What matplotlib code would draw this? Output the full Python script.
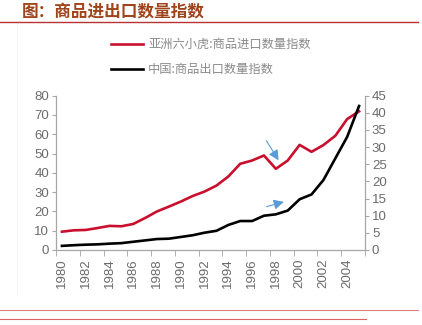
import matplotlib
matplotlib.use("Agg")
import matplotlib.pyplot as plt
from matplotlib.lines import Line2D
import numpy as np

# Data
years = list(range(1980, 2006))
tigers_import = [9.5, 10.2, 10.4, 11.4, 12.5, 12.3, 13.5, 16.6, 20.0, 22.5,
                 25.1, 28.0, 30.3, 33.4, 38.1, 44.7, 46.4, 49.0, 42.1, 46.4,
                 54.5, 50.9, 54.4, 59.2, 67.9, 71.9]
china_export = [1.2, 1.4, 1.55, 1.65, 1.85, 2.0, 2.4, 2.8, 3.2, 3.3,
                3.8, 4.3, 5.05, 5.6, 7.3, 8.45, 8.45, 10.0, 10.4, 11.5,
                14.8, 16.2, 20.4, 26.7, 33.0, 42.0]
label_tigers = "亚洲六小虎:商品进口数量指数"
label_china = "中国:商品出口数量指数"
title = "图：商品进出口数量指数"

RED = "#c8102e"
GRAY = "#a6a6a6"
TXT = "#6b6b6b"

plt.rcParams["font.family"] = ["Liberation Sans", "DejaVu Sans"]
cjk = ["Noto Sans CJK SC", "DejaVu Sans"]

fig = plt.figure(figsize=(4.22, 3.25), dpi=100)
ax = fig.add_axes([56 / 422, 1 - 250 / 325, 309 / 422, 154.3 / 325])
ax2 = ax.twinx()

x = np.arange(len(years))
ax.plot(x, tigers_import, color=RED, lw=1.9, solid_joinstyle="round")
ax2.plot(x, china_export, color="black", lw=1.9, solid_joinstyle="round")

ax.set_xlim(-0.5, len(years) - 0.5)
ax.set_ylim(0, 80)
ax2.set_ylim(0, 45)
ax.set_yticks(range(0, 81, 10))
ax2.set_yticks(range(0, 46, 5))

ax.set_xticks(x[::2])
ax.set_xticklabels([str(y) for y in years[::2]], rotation=90)
ax.set_xticks(np.arange(-0.5, len(years), 2), minor=True)
ax.tick_params(axis="x", which="major", length=0, pad=6)
ax.tick_params(axis="x", which="minor", length=4, color=GRAY)

for a in (ax, ax2):
    for s in a.spines.values():
        s.set_visible(False)
    a.tick_params(axis="y", length=3, color=GRAY, labelcolor=TXT, labelsize=9.5, pad=2)
    a.tick_params(axis="x", labelcolor=TXT, labelsize=9.5)
ax.spines["left"].set_visible(True)
ax.spines["bottom"].set_visible(True)
ax2.spines["right"].set_visible(True)
for s in (ax.spines["left"], ax.spines["bottom"], ax2.spines["right"]):
    s.set_color(GRAY)
    s.set_linewidth(0.9)

# blue arrows
arrow = dict(arrowstyle="-|>,head_length=0.6,head_width=0.3", color="#5b9bd5", lw=0.8)
ax.annotate("", xy=(0.725, 0.566), xytext=(0.676, 0.724),
            xycoords="axes fraction", arrowprops=arrow)
ax.annotate("", xy=(0.746, 0.317), xytext=(0.673, 0.276),
            xycoords="axes fraction", arrowprops=arrow)

# legend
fig.add_artist(Line2D([111 / 422, 143 / 422], [1 - 44 / 325] * 2, color=RED, lw=1.9))
fig.add_artist(Line2D([111 / 422, 143 / 422], [1 - 69 / 325] * 2, color="black", lw=1.9))
fig.text(148 / 422, 1 - 44 / 325, label_tigers, family=cjk, fontsize=8.8,
         color="#8a8a8a", va="center")
fig.text(148 / 422, 1 - 69 / 325, label_china, family=cjk, fontsize=8.8,
         color="#8a8a8a", va="center")

# header / footer decoration
fig.text(22 / 422, 1 - 12 / 325, title, family=cjk, fontsize=12, fontweight="bold",
         color="#a0441c", va="center")
fig.add_artist(Line2D([0, 418 / 422], [1 - 22 / 325] * 2, color="#b83232", lw=1.0))
fig.add_artist(Line2D([17 / 422, 17 / 422], [1 - 24 / 325, 1 - 293 / 325],
                      color="#f2f2f2", lw=0.6))
fig.add_artist(Line2D([0, 418 / 422], [1 - 310 / 325] * 2, color="#e08080", lw=0.8))
fig.add_artist(Line2D([0, 366 / 422], [1 - 319 / 325] * 2, color="#e06060", lw=0.8))

fig.savefig("out.png", dpi=100)
